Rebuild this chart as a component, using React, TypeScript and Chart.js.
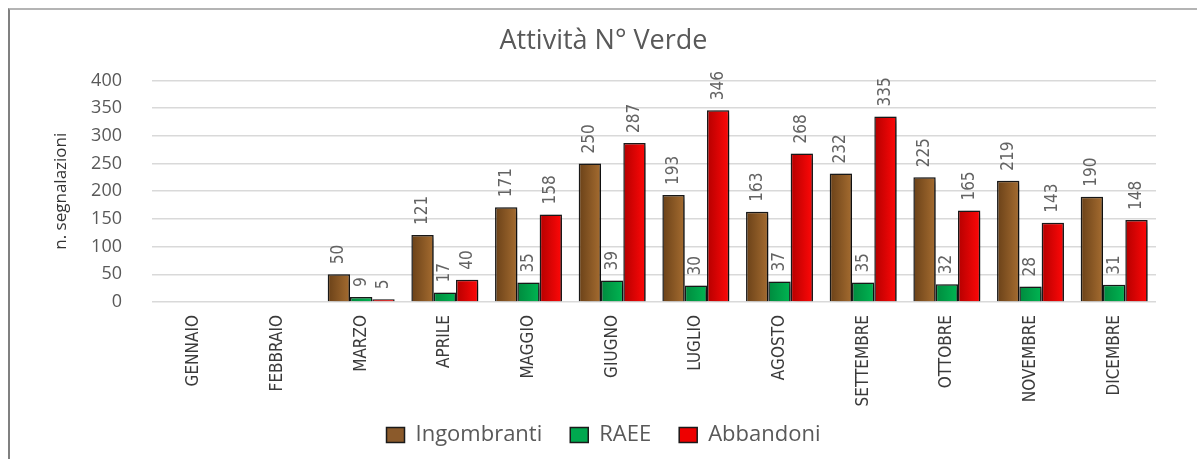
import React, { useEffect, useRef } from 'react';
import { Chart, registerables } from 'chart.js';

Chart.register(...registerables);

const months = ['GENNAIO', 'FEBBRAIO', 'MARZO', 'APRILE', 'MAGGIO', 'GIUGNO', 'LUGLIO', 'AGOSTO', 'SETTEMBRE', 'OTTOBRE', 'NOVEMBRE', 'DICEMBRE'];
const ingombranti = [null, null, 50, 121, 171, 250, 193, 163, 232, 225, 219, 190];
const raee = [null, null, 9, 17, 35, 39, 30, 37, 35, 32, 28, 31];
const abbandoni = [null, null, 5, 40, 158, 287, 346, 268, 335, 165, 143, 148];
const seriesNames = ['Ingombranti', 'RAEE', 'Abbandoni'];
const yMin = 0;
const yMax = 400;
const yStep = 50;
const chartTitle = 'Attività N° Verde';
const yTitle = 'n. segnalazioni';

const solidColors = ['#8b5a2b', '#00a84f', '#ee0000'];
const gradientColors = [
  ['#6a4118', '#a56c30'],
  ['#008a3e', '#00b552'],
  ['#b50000', '#ff0808'],
];

const narrowFont = "'Liberation Sans Narrow', 'DejaVu Sans Condensed', 'Roboto Condensed', sans-serif";
const mainFont = "'Open Sans', 'Noto Sans', sans-serif";

const barStylePlugin = {
  id: 'barStyle',
  beforeDatasetDraw(chart: any, args: any) {
    const ctx = chart.ctx;
    const meta = args.meta;
    const cols = gradientColors[args.index];
    meta.data.forEach((el: any) => {
      const { x, width } = el.getProps(['x', 'width'], true);
      if (!isFinite(x) || !isFinite(width)) return;
      const g = ctx.createLinearGradient(x - width / 2, 0, x + width / 2, 0);
      g.addColorStop(0, cols[0]);
      g.addColorStop(1, cols[1]);
      if (el.options && !Object.isFrozen(el.options)) el.options.backgroundColor = g;
    });
    ctx.save();
    ctx.shadowColor = 'rgba(0,0,0,0.5)';
    ctx.shadowBlur = 6;
    ctx.shadowOffsetX = 4;
    ctx.shadowOffsetY = 2;
  },
  afterDatasetDraw(chart: any) {
    chart.ctx.restore();
  },
};

const dataLabelPlugin = {
  id: 'dataLabels',
  afterDatasetsDraw(chart: any) {
    const ctx = chart.ctx;
    ctx.save();
    ctx.font = `17px ${narrowFont}`;
    ctx.fillStyle = '#636363';
    ctx.textAlign = 'left';
    ctx.textBaseline = 'middle';
    chart.data.datasets.forEach((ds: any, di: number) => {
      const meta = chart.getDatasetMeta(di);
      meta.data.forEach((el: any, i: number) => {
        const v = ds.data[i];
        if (v === null || v === undefined) return;
        const { x, y } = el.getProps(['x', 'y'], true);
        ctx.save();
        ctx.translate(x, y - 10);
        ctx.rotate(-Math.PI / 2);
        ctx.fillText(String(v), 0, 0);
        ctx.restore();
      });
    });
    ctx.restore();
  },
};

const legendHeightPlugin = {
  id: 'legendHeight',
  afterInit(chart: any) {
    const legend = chart.legend;
    if (!legend) return;
    const origFit = legend.fit.bind(legend);
    legend.fit = function () {
      origFit();
      this.height = 50;
    };
    const origDraw = legend.draw.bind(legend);
    legend.draw = function () {
      const ctx = chart.ctx;
      ctx.save();
      ctx.translate(0, -13);
      origDraw();
      ctx.restore();
    };
  },
};

export default function App() {
  const ref = useRef<HTMLCanvasElement>(null);

  useEffect(() => {
    const canvas = ref.current;
    if (!canvas) return;
    const series = [ingombranti, raee, abbandoni];
    const chart = new Chart(canvas, {
      type: 'bar',
      data: {
        labels: months,
        datasets: series.map((d, i) => ({
          label: seriesNames[i],
          data: d as any,
          backgroundColor: () => solidColors[i],
          borderColor: '#1a1a1a',
          borderWidth: 1.5,
          barPercentage: 1,
          categoryPercentage: 0.8,
        })),
      },
      options: {
        responsive: false,
        animation: false,
        devicePixelRatio: 1,
        layout: { padding: { left: 0, right: 0, top: 0, bottom: 0 } },
        plugins: {
          title: {
            display: true,
            text: chartTitle,
            color: '#595959',
            font: { family: mainFont, size: 27, weight: 'normal' },
            padding: { top: 15, bottom: 23 },
          },
          legend: {
            position: 'bottom',
            labels: {
              color: '#595959',
              font: { family: mainFont, size: 22 },
              boxWidth: 18,
              boxHeight: 15,
              padding: 28,
            },
          },
          tooltip: { enabled: false },
        },
        scales: {
          x: {
            grid: { display: false, drawTicks: false },
            border: { display: false },
            ticks: {
              color: '#3a3a3a',
              font: { family: narrowFont, size: 17 },
              maxRotation: 90,
              minRotation: 90,
              padding: 13,
              autoSkip: false,
            },
            afterFit: (s: any) => {
              s.height = 107;
            },
          },
          y: {
            min: yMin,
            max: yMax,
            grid: { color: '#d9d9d9', lineWidth: 1.5, drawTicks: false },
            border: { display: false },
            ticks: {
              stepSize: yStep,
              color: '#595959',
              font: { family: mainFont, size: 18 },
              padding: 30,
            },
            title: {
              display: true,
              text: yTitle,
              color: '#333333',
              font: { family: mainFont, size: 17 },
              padding: { top: 41, bottom: 0 },
            },
            afterFit: (s: any) => {
              s.width = 142;
            },
          },
          yRight: {
            position: 'right',
            display: true,
            grid: { display: false, drawTicks: false },
            border: { display: false },
            ticks: { display: false },
            afterFit: (s: any) => {
              s.width = 41;
            },
          },
        },
      } as any,
      plugins: [barStylePlugin, dataLabelPlugin, legendHeightPlugin],
    });
    return () => chart.destroy();
  }, []);

  return (
    <div
      style={{
        position: 'absolute',
        left: 8,
        top: 8,
        width: 1187,
        height: 449,
        borderLeft: '2px solid #808080',
        borderTop: '2px solid #b4b4b4',
        background: '#ffffff',
      }}
    >
      <canvas ref={ref} width={1187} height={449} style={{ display: 'block', width: 1187, height: 449 }} />
    </div>
  );
}
